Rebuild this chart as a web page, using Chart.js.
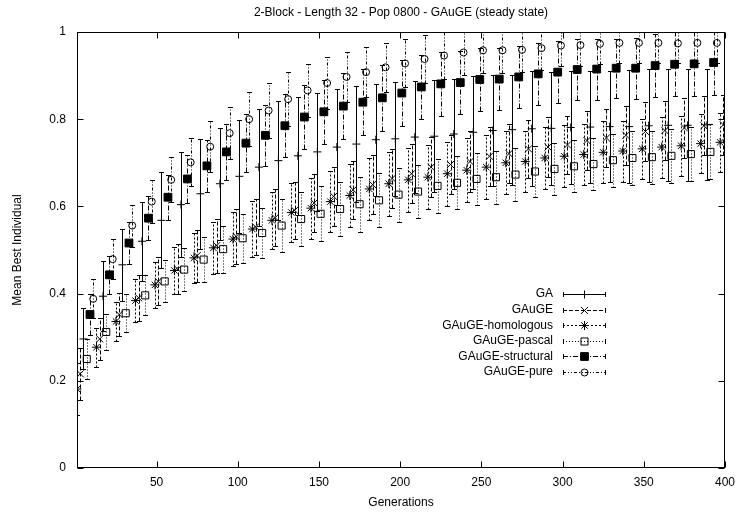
<!DOCTYPE html>
<html><head><meta charset="utf-8">
<script src="https://cdn.jsdelivr.net/npm/chart.js@4.4.0/dist/chart.umd.min.js"></script>
<style>html,body{margin:0;padding:0;background:#fff}#wrap{width:742px;height:514px;position:relative}</style>
</head><body><div id="wrap"><canvas id="c" width="742" height="514"></canvas></div>
<script>
const chartTitle = '2-Block - Length 32 - Pop 0800 - GAuGE (steady state)';
const xTitle = 'Generations';
const yTitle = 'Mean Best Individual';
const seriesNames = ['GA','GAuGE','GAuGE-homologous','GAuGE-pascal','GAuGE-structural','GAuGE-pure'];
const xTicks = [50,100,150,200,250,300,350,400];
const yTicks = [0,0.2,0.4,0.6,0.8,1];
const yTickLabels = ['0','0.2','0.4','0.6','0.8','1'];

const genGA = [5,17,29,41,53,65,77,89,101,113,125,137,149,161,173,185,197,209,221,233,245,257,269,281,293,305,317,329,341,353,365,377,389];
const genGAuGE = [3,15,27,39,51,63,75,87,99,111,123,135,147,159,171,183,195,207,219,231,243,255,267,279,291,303,315,327,339,351,363,375,387,399];
const genHomologous = [1,13,25,37,49,61,73,85,97,109,121,133,145,157,169,181,193,205,217,229,241,253,265,277,289,301,313,325,337,349,361,373,385,397];
const genPascal = [7,19,31,43,55,67,79,91,103,115,127,139,151,163,175,187,199,211,223,235,247,259,271,283,295,307,319,331,343,355,367,379,391];
const genStructural = [9,21,33,45,57,69,81,93,105,117,129,141,153,165,177,189,201,213,225,237,249,261,273,285,297,309,321,333,345,357,369,381,393];
const genPure = [11,23,35,47,59,71,83,95,107,119,131,143,155,167,179,191,203,215,227,239,251,263,275,287,299,311,323,335,347,359,371,383,395];

const meanGA = [0.296,0.394,0.466,0.52,0.568,0.604,0.629,0.652,0.669,0.69,0.705,0.716,0.725,0.736,0.743,0.753,0.755,0.759,0.761,0.766,0.77,0.774,0.776,0.778,0.779,0.781,0.782,0.783,0.783,0.785,0.786,0.786,0.787];
const sdGA = [0.07,0.08,0.083,0.09,0.11,0.12,0.126,0.128,0.13,0.134,0.136,0.136,0.135,0.133,0.134,0.128,0.13,0.128,0.128,0.127,0.13,0.127,0.126,0.132,0.13,0.13,0.128,0.128,0.13,0.129,0.128,0.128,0.127];

const meanGAuGE = [0.216,0.296,0.352,0.39,0.428,0.456,0.487,0.51,0.531,0.553,0.574,0.591,0.608,0.623,0.638,0.65,0.664,0.675,0.69,0.696,0.703,0.715,0.721,0.732,0.736,0.741,0.751,0.757,0.763,0.772,0.774,0.78,0.785,0.787];
const sdGAuGE = [0.06,0.048,0.05,0.052,0.055,0.058,0.06,0.062,0.063,0.064,0.065,0.066,0.066,0.067,0.067,0.068,0.068,0.068,0.069,0.068,0.069,0.068,0.068,0.067,0.068,0.067,0.068,0.067,0.068,0.067,0.068,0.069,0.068,0.068];

const meanHomologous = [0.181,0.277,0.336,0.384,0.42,0.453,0.482,0.505,0.525,0.548,0.568,0.586,0.596,0.611,0.625,0.64,0.652,0.661,0.667,0.675,0.683,0.69,0.70,0.703,0.711,0.715,0.719,0.724,0.727,0.732,0.736,0.739,0.744,0.747];
const sdHomologous = [0.06,0.045,0.045,0.05,0.052,0.055,0.058,0.06,0.062,0.065,0.066,0.068,0.07,0.07,0.072,0.072,0.073,0.074,0.074,0.073,0.074,0.073,0.072,0.071,0.072,0.071,0.07,0.071,0.07,0.069,0.07,0.069,0.068,0.068];

const meanPascal = [0.25,0.312,0.355,0.396,0.428,0.455,0.478,0.502,0.527,0.539,0.556,0.571,0.583,0.594,0.605,0.614,0.627,0.634,0.647,0.654,0.663,0.667,0.673,0.68,0.686,0.692,0.697,0.706,0.711,0.713,0.716,0.72,0.725];
const sdPascal = [0.045,0.042,0.044,0.046,0.048,0.05,0.052,0.054,0.056,0.058,0.06,0.061,0.063,0.062,0.063,0.062,0.062,0.061,0.062,0.061,0.06,0.061,0.06,0.058,0.059,0.06,0.06,0.061,0.062,0.061,0.062,0.062,0.063];

const meanStructural = [0.352,0.443,0.516,0.573,0.621,0.663,0.693,0.725,0.745,0.763,0.785,0.805,0.817,0.83,0.839,0.849,0.86,0.874,0.881,0.884,0.891,0.892,0.897,0.904,0.908,0.914,0.915,0.917,0.917,0.923,0.926,0.927,0.93];
const sdStructural = [0.046,0.044,0.048,0.05,0.052,0.055,0.06,0.065,0.067,0.07,0.072,0.074,0.074,0.075,0.075,0.076,0.075,0.074,0.074,0.073,0.073,0.072,0.072,0.071,0.071,0.07,0.07,0.068,0.07,0.072,0.073,0.073,0.074];

const meanPure = [0.388,0.479,0.556,0.611,0.661,0.701,0.737,0.768,0.80,0.82,0.846,0.866,0.883,0.897,0.908,0.919,0.928,0.938,0.946,0.953,0.958,0.958,0.959,0.963,0.969,0.97,0.973,0.975,0.975,0.975,0.974,0.975,0.975];
const sdPure = [0.045,0.046,0.048,0.05,0.052,0.055,0.058,0.06,0.062,0.062,0.062,0.061,0.06,0.058,0.058,0.056,0.055,0.055,0.053,0.052,0.052,0.052,0.05,0.05,0.048,0.048,0.047,0.046,0.046,0.045,0.046,0.045,0.045];

const FONT = "'Liberation Sans', Arial, Helvetica, sans-serif";

function pts(xs, ys){ return xs.map((g,i)=>({x:g, y:ys[i]})); }

const styleDefs = [
  {gens:genGA, mean:meanGA, sd:sdGA, pointStyle:'cross', radius:4, fill:'rgba(0,0,0,0)', dash:[]},
  {gens:genGAuGE, mean:meanGAuGE, sd:sdGAuGE, pointStyle:'crossRot', radius:5, fill:'rgba(0,0,0,0)', dash:[4,2]},
  {gens:genHomologous, mean:meanHomologous, sd:sdHomologous, pointStyle:'star', radius:4.5, fill:'rgba(0,0,0,0)', dash:[2,2]},
  {gens:genPascal, mean:meanPascal, sd:sdPascal, pointStyle:'rect', radius:5, fill:'rgba(0,0,0,0)', dash:[1,2]},
  {gens:genStructural, mean:meanStructural, sd:sdStructural, pointStyle:'rect', radius:5.5, fill:'#000', dash:[5,2,1,2]},
  {gens:genPure, mean:meanPure, sd:sdPure, pointStyle:'circle', radius:3.5, fill:'rgba(0,0,0,0)', dash:[3,2,1,2,1,2]}
];

const datasets = styleDefs.map((s,i)=>({
  label: seriesNames[i],
  data: pts(s.gens, s.mean),
  err: s.sd,
  errDash: s.dash,
  showLine: false,
  pointStyle: s.pointStyle,
  pointRadius: s.radius,
  pointHoverRadius: s.radius,
  pointBorderWidth: 1,
  pointBorderColor: '#000',
  pointBackgroundColor: s.fill,
  borderColor: '#000',
  backgroundColor: s.fill
}));

const TICK = 6;

const framePlugin = {
  id: 'frame',
  beforeDatasetsDraw(chart){
    const {ctx, chartArea:a, scales:{x, y}} = chart;
    ctx.save();
    ctx.strokeStyle = '#000';
    ctx.lineWidth = 1;
    ctx.setLineDash([]);
    const L = Math.round(a.left)+0.5, R = Math.round(a.right)-0.5, T = Math.round(a.top)+0.5, B = Math.round(a.bottom)-0.5;
    ctx.beginPath();
    y.ticks.forEach(t=>{
      const py = Math.round(y.getPixelForValue(t.value))+0.5;
      ctx.moveTo(L, py); ctx.lineTo(L+TICK, py);
      ctx.moveTo(R, py); ctx.lineTo(R-TICK, py);
    });
    x.ticks.forEach(t=>{
      const px = Math.round(x.getPixelForValue(t.value))+0.5;
      ctx.moveTo(px, B); ctx.lineTo(px, B-TICK);
      ctx.moveTo(px, T); ctx.lineTo(px, T+TICK);
    });
    ctx.stroke();
    ctx.strokeRect(L, T, R-L, B-T);
    // error bars
    ctx.beginPath();
    ctx.rect(a.left, a.top, a.right-a.left, a.bottom-a.top);
    ctx.clip();
    chart.data.datasets.forEach(ds=>{
      ds.data.forEach((p,i)=>{
        const px = Math.round(x.getPixelForValue(p.x))+0.5;
        const yt = Math.round(y.getPixelForValue(p.y + ds.err[i]))+0.5;
        const yb = Math.round(y.getPixelForValue(p.y - ds.err[i]))+0.5;
        ctx.setLineDash(ds.errDash);
        ctx.lineDashOffset = 0;
        ctx.beginPath();
        ctx.moveTo(px, yb); ctx.lineTo(px, yt);
        ctx.stroke();
        ctx.setLineDash([]);
        ctx.beginPath();
        ctx.moveTo(px-2.5, yt); ctx.lineTo(px+2.5, yt);
        ctx.moveTo(px-2.5, yb); ctx.lineTo(px+2.5, yb);
        ctx.stroke();
      });
    });
    ctx.restore();
  },
  afterDraw(chart){
    const {ctx} = chart;
    ctx.save();
    const textRight = 553, x1 = 563, x2 = 606, xm = 584.5, y0 = 294, dy = 15.6;
    ctx.font = '12px ' + FONT;
    ctx.fillStyle = '#000';
    ctx.textAlign = 'right';
    ctx.textBaseline = 'middle';
    chart.data.datasets.forEach((ds,i)=>{
      const yy = y0 + i*dy;
      ctx.fillText(ds.label, textRight, yy);
      const ly = Math.round(yy)+0.5;
      ctx.strokeStyle = '#000'; ctx.lineWidth = 1;
      ctx.setLineDash(ds.errDash);
      ctx.beginPath(); ctx.moveTo(x1, ly); ctx.lineTo(x2, ly); ctx.stroke();
      ctx.setLineDash([]);
      ctx.beginPath();
      ctx.moveTo(x1+0.5, ly-2.5); ctx.lineTo(x1+0.5, ly+2.5);
      ctx.moveTo(x2-0.5, ly-2.5); ctx.lineTo(x2-0.5, ly+2.5);
      ctx.stroke();
      const opts = {pointStyle: ds.pointStyle, radius: ds.pointRadius, borderWidth: 1, rotation: 0};
      ctx.fillStyle = ds.pointBackgroundColor;
      ctx.strokeStyle = '#000';
      if (Chart.helpers && Chart.helpers.drawPoint) Chart.helpers.drawPoint(ctx, opts, xm, ly);
      ctx.fillStyle = '#000';
    });
    ctx.restore();
  }
};

new Chart(document.getElementById('c'), {
  type: 'scatter',
  data: { datasets },
  options: {
    responsive: false,
    animation: false,
    events: [],
    layout: { padding: { left: 0, right: 14, top: 0, bottom: 0 } },
    plugins: {
      legend: { display: false },
      tooltip: { enabled: false },
      title: {
        display: true, text: chartTitle, color: '#000',
        font: { family: FONT, size: 12, weight: 'normal' },
        padding: { top: 5, bottom: 12.6 }
      }
    },
    scales: {
      x: {
        type: 'linear', min: 1, max: 400,
        afterBuildTicks: s => { s.ticks = xTicks.map(v => ({value: v})); },
        afterFit: s => { s.height = 46; },
        grid: { display: false, drawTicks: false },
        border: { display: false },
        ticks: { color: '#000', font: { family: FONT, size: 12 }, padding: 7, maxRotation: 0, autoSkip: false },
        title: { display: true, text: xTitle, color: '#000', font: { family: FONT, size: 12 }, padding: { top: 0, bottom: 3.8 } }
      },
      y: {
        type: 'linear', min: 0, max: 1,
        afterBuildTicks: s => { s.ticks = yTicks.map(v => ({value: v})); },
        afterFit: s => { s.width = 77; },
        grid: { display: false, drawTicks: false },
        border: { display: false },
        ticks: {
          color: '#000', font: { family: FONT, size: 12 }, padding: 11, autoSkip: false,
          callback: (v) => { const k = yTicks.indexOf(v); return k >= 0 ? yTickLabels[k] : String(v); }
        },
        title: { display: true, text: yTitle, color: '#000', font: { family: FONT, size: 12 }, padding: { top: 10, bottom: 0 } }
      }
    }
  },
  plugins: [framePlugin, {
    id: 'titleCenter',
    afterLayout(chart){
      const tb = chart.titleBlock;
      if (tb) { tb.left = chart.chartArea.left; tb.right = chart.chartArea.right; tb.width = tb.right - tb.left; }
    }
  }]
});
</script>
</body></html>
